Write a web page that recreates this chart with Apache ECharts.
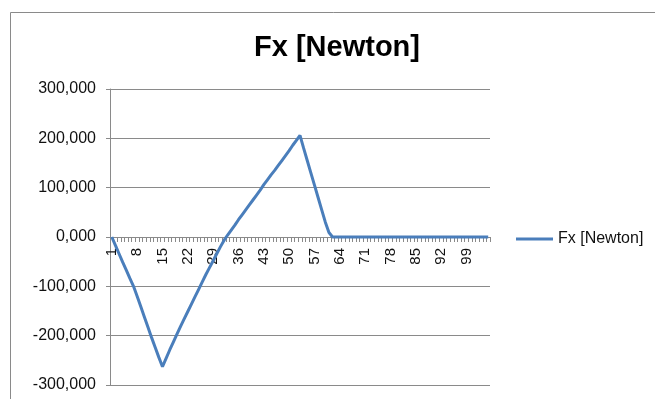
<!DOCTYPE html>
<html>
<head>
<meta charset="utf-8">
<title>Fx [Newton]</title>
<script src="https://cdn.jsdelivr.net/npm/echarts@6/dist/echarts.min.js"></script>
<style>
html, body { margin: 0; padding: 0; background: #fff; }
#chart { width: 655px; height: 399px; }
</style>
</head>
<body>
<div id="chart"></div>
<script>
// x categories (sample number)
var categories = [
	'1','2','3','4','5','6','7','8','9','10','11','12','13','14','15','16','17','18','19','20',
	'21','22','23','24','25','26','27','28','29','30','31','32','33','34','35','36','37','38','39','40',
	'41','42','43','44','45','46','47','48','49','50','51','52','53','54','55','56','57','58','59','60',
	'61','62','63','64','65','66','67','68','69','70','71','72','73','74','75','76','77','78','79','80',
	'81','82','83','84','85','86','87','88','89','90','91','92','93','94','95','96','97','98','99','100',
	'101','102','103','104','105'
];
// Fx values
var fxValues = [
	0, -17, -34, -51, -67, -84, -100, -120, -141, -162, -183, -204, -224, -244, -263,
	-246, -229, -213, -197, -181, -166, -151, -136, -121, -106, -91, -76, -62, -48, -34, -20, -7,
	4, 14, 24, 35, 45, 55, 65, 75, 85, 95, 106, 116, 126, 135, 145, 155, 165, 175, 186, 196, 206,
	180, 155, 130, 105, 80, 55, 30, 9, 0,
	0, 0, 0, 0, 0, 0, 0, 0, 0, 0, 0, 0, 0, 0, 0, 0, 0, 0, 0, 0,
	0, 0, 0, 0, 0, 0, 0, 0, 0, 0, 0, 0, 0, 0, 0, 0, 0, 0, 0, 0,
	0, 0, 0
];
var yTicks = { min: -300, max: 300, step: 100 };
var seriesName = 'Fx [Newton]';

var gray = '#8a8a8a';
var font = "'Liberation Sans', Arial, sans-serif";

var gridTop = 89, gridBottom = 14;
var plotH = 399 - gridTop - gridBottom;
// move the category axis (line, ticks and labels) up to the zero line
var zeroOffset = -plotH * (0 - yTicks.min) / (yTicks.max - yTicks.min);

var chart = echarts.init(document.getElementById('chart'));
chart.setOption({
	animation: false,
	graphic: [
		{
			type: 'rect',
			shape: { x: 10.5, y: 12.5, width: 700, height: 450 },
			style: { fill: 'none', stroke: gray, lineWidth: 1 }
		},
		{
			type: 'text',
			x: 337,
			y: 48,
			style: {
				text: 'Fx [Newton]',
				fill: '#000',
				font: "bold 29px 'Liberation Sans', Arial, sans-serif",
				align: 'center',
				verticalAlign: 'middle'
			}
		}
	],
	legend: {
		data: [seriesName],
		left: 511,
		top: 226,
		icon: 'rect',
		itemWidth: 37,
		itemHeight: 3,
		textStyle: { fontSize: 16, color: '#111', fontFamily: font }
	},
	grid: { left: 110, right: 165, top: gridTop, bottom: gridBottom, outerBoundsMode: 'none', containLabel: false },
	xAxis: {
		type: 'category',
		data: categories,
		boundaryGap: true,
		offset: zeroOffset,
		axisLine: { onZero: false, lineStyle: { color: gray } },
		axisTick: { show: true, interval: 0, length: 5, lineStyle: { color: gray } },
		axisLabel: {
			interval: 6,
			rotate: 90,
			margin: 11,
			fontSize: 15,
			color: '#111',
			fontFamily: font
		}
	},
	yAxis: {
		type: 'value',
		min: yTicks.min,
		max: yTicks.max,
		interval: yTicks.step,
		axisLine: { show: true, lineStyle: { color: gray } },
		axisTick: { show: true, length: 4, lineStyle: { color: gray } },
		splitLine: { lineStyle: { color: gray } },
		axisLabel: {
			margin: 14,
			fontSize: 16,
			color: '#111',
			fontFamily: font,
			formatter: function (v) {
				return v.toFixed(3).replace('.', ',');
			}
		}
	},
	series: [{
		name: seriesName,
		type: 'line',
		data: fxValues,
		showSymbol: false,
		symbol: 'none',
		lineStyle: { color: '#4a7ebb', width: 3 },
		itemStyle: { color: '#4a7ebb' }
	}]
});
</script>
</body>
</html>
